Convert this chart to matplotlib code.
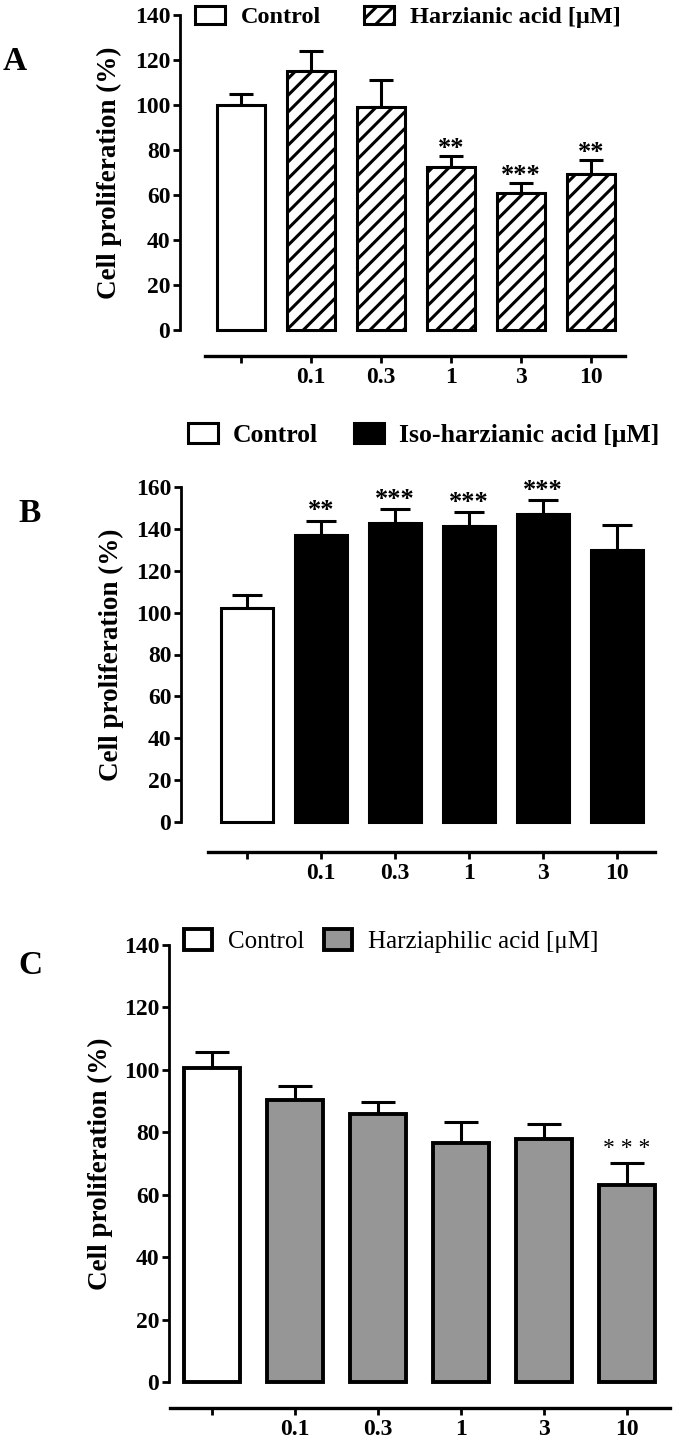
import numpy as np
import matplotlib
matplotlib.use('Agg')
import matplotlib.pyplot as plt

# concentrations (uM); first position is the control
doses = ['', '0.1', '0.3', '1', '3', '10']

a_mean = [100, 115, 99, 72.5, 61, 69.5]
a_err = [5, 9, 12, 5, 4.5, 6]
a_stars = ['', '', '', '**', '***', '**']

b_mean = [102, 137, 143, 141.5, 147, 130]
b_err = [6.5, 7, 6.5, 6.5, 7, 12]
b_stars = ['', '**', '***', '***', '***', '']

c_mean = [100.5, 90.5, 86, 76.5, 78, 63]
c_err = [5.3, 4.3, 3.8, 6.8, 4.5, 7.3]
c_stars = ['', '', '', '', '', '* * *']

W, H = 685, 1443
plt.rcParams['font.family'] = ['Liberation Serif', 'DejaVu Serif']
plt.rcParams['hatch.linewidth'] = 2.2

fig = plt.figure(figsize=(W / 100, H / 100), dpi=100)


def draw_panel(mean, err, stars, treat_label, letter, g):
    ax = fig.add_axes([g['yx'] / W, 1 - g['y0'] / H,
                       (g['right'] - g['yx']) / W, (g['y0'] - g['ytop']) / H])
    x = np.arange(len(mean))
    step = g['step']
    ax.set_xlim(-(g['cx'] - g['yx']) / step, (g['right'] - g['cx']) / step)
    ax.set_ylim(0, g['ymax'])

    ctrl = ax.bar(x[:1], mean[:1], g['bw'], color='white', edgecolor='k',
                  linewidth=g['elw'], zorder=2, clip_on=False)
    treat = ax.bar(x[1:], mean[1:], g['bw'], color=g['fill'], edgecolor='k',
                   linewidth=g['elw'], hatch=g['hatch'], zorder=2, clip_on=False)
    ax.errorbar(x, mean, yerr=[np.zeros(len(err)), err], fmt='none', ecolor='k',
                elinewidth=2.2, capsize=g['cap'], capthick=2.2, zorder=1)

    for i, s in enumerate(stars):
        if s:
            ax.annotate(s, (x[i], mean[i] + err[i]), xytext=(0, g['soff']),
                        textcoords='offset pixels', ha='center', va='baseline',
                        fontsize=g['sfs'], fontweight=g['sfw'])

    for side in ['top', 'right']:
        ax.spines[side].set_visible(False)
    ax.spines['left'].set_linewidth(2.0)
    ax.spines['bottom'].set_linewidth(2.4)
    ax.spines['bottom'].set_position(('outward', g['xoff'] * 0.72))
    ax.spines['bottom'].set_bounds((g['lx0'] - g['cx']) / step, (g['lx1'] - g['cx']) / step)

    ax.set_yticks(np.arange(0, g['ymax'] + 1, 20))
    ax.set_xticks(x)
    ax.set_xticklabels(doses)
    ax.tick_params(axis='y', length=5, width=2.0, pad=2, labelsize=17)
    ax.tick_params(axis='x', length=5, width=2.0, pad=3, labelsize=17)
    for t in ax.get_xticklabels() + ax.get_yticklabels():
        t.set_fontweight('bold')

    ax.set_ylabel('Cell proliferation (%)', fontsize=19.5, fontweight='bold')
    ax.yaxis.set_label_coords(g['labx'] / W, 1 - (g['y0'] + g['ytop']) / 2 / H,
                              transform=fig.transFigure)

    fig.text(g['letx'] / W, 1 - g['lety'] / H, letter, fontsize=24,
             fontweight='bold', ha='left', va='center')

    ax.legend([ctrl, treat], ['Control', treat_label], loc='center left',
              bbox_to_anchor=(g['legx'] / W, 1 - g['legy'] / H),
              bbox_transform=fig.transFigure, ncol=2, frameon=False,
              borderpad=0, borderaxespad=0, handlelength=g['hl'],
              handleheight=g['hh'], handletextpad=g['htp'],
              columnspacing=g['colsp'],
              prop={'size': g['lfs'], 'weight': g['lfw']})
    return ax


geo_a = dict(yx=180, y0=330, ytop=15, ymax=140, right=650, cx=241, step=70, bw=0.686,
             lx0=205, lx1=625, xoff=26, fill='white', hatch='//', elw=2.2, cap=8.6,
             soff=1, sfs=19, sfw='bold', labx=122, letx=3, lety=62,
             legx=195, legy=17, hl=1.23, hh=0.8, htp=0.66, colsp=1.77,
             lfs=17.5, lfw='bold')
geo_b = dict(yx=181, y0=822, ytop=487, ymax=160, right=670, cx=247, step=74, bw=0.69,
             lx0=208, lx1=655, xoff=30, fill='black', hatch=None, elw=2.2, cap=10.8,
             soff=3, sfs=19, sfw='bold', labx=124, letx=18, lety=513,
             legx=188, legy=435, hl=1.15, hh=0.85, htp=0.6, colsp=1.4,
             lfs=18.5, lfw='bold')
geo_c = dict(yx=169, y0=1382, ytop=945, ymax=140, right=680, cx=212, step=83, bw=0.675,
             lx0=170, lx1=670, xoff=26, fill='#969696', hatch=None, elw=2.8, cap=12,
             soff=9, sfs=17, sfw='normal', labx=113, letx=18, lety=966,
             legx=184, legy=941, hl=1.12, hh=0.88, htp=0.64, colsp=0.8,
             lfs=18, lfw='normal')

draw_panel(a_mean, a_err, a_stars, 'Harzianic acid [\u03bcM]', 'A', geo_a)
draw_panel(b_mean, b_err, b_stars, 'Iso-harzianic acid [\u03bcM]', 'B', geo_b)
draw_panel(c_mean, c_err, c_stars, 'Harziaphilic acid [\u03bcM]', 'C', geo_c)

fig.savefig('out.png', dpi=100)
